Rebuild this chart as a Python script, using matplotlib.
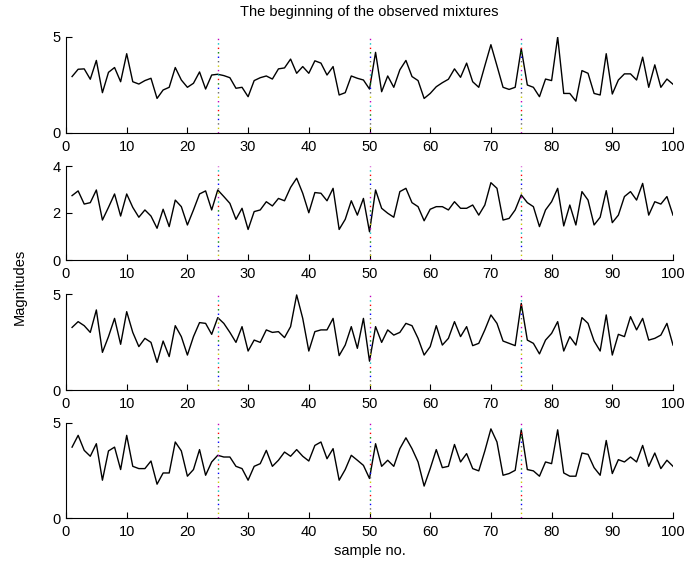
import matplotlib
matplotlib.use("Agg")
import matplotlib.pyplot as plt
import numpy as np

plt.rcParams['font.family'] = ['Liberation Sans', 'DejaVu Sans']

samples = list(range(1, 101))
s1 = [2.94,3.32,3.34,2.80,3.78,2.10,3.16,3.41,2.67,4.13,
      2.67,2.55,2.73,2.85,1.80,2.24,2.38,3.41,2.76,2.38,
      2.59,3.18,2.29,3.02,3.06,2.99,2.88,2.33,2.38,1.89,
      2.73,2.88,2.97,2.81,3.34,3.39,3.85,3.11,3.46,3.11,
      3.76,3.64,3.02,3.46,1.98,2.10,2.97,2.85,2.76,2.29,
      4.20,2.15,2.97,2.38,3.29,3.78,2.94,2.73,1.80,2.06,
      2.41,2.62,2.80,3.34,2.90,3.64,2.67,2.38,3.50,4.60,
      3.50,2.38,2.27,2.38,4.40,2.50,2.38,1.89,2.81,2.73,
      5.00,2.06,2.06,1.66,3.25,3.11,2.06,1.98,4.13,2.03,
      2.76,3.08,3.08,2.76,3.95,2.38,3.55,2.38,2.81,2.54]
s2 = [2.74,2.94,2.38,2.44,2.98,1.70,2.24,2.81,1.87,2.81,
      2.24,1.82,2.13,1.87,1.35,2.16,1.42,2.55,2.27,1.49,
      2.13,2.81,2.94,2.13,2.98,2.70,2.41,1.73,2.20,1.30,
      2.06,2.13,2.48,2.30,2.62,2.52,3.09,3.48,2.84,2.01,
      2.87,2.84,2.52,3.05,1.30,1.73,2.52,1.91,2.62,1.20,
      2.98,2.20,1.99,1.82,2.91,3.05,2.44,2.27,1.67,2.16,
      2.27,2.27,2.13,2.48,2.20,2.20,2.34,1.91,2.34,3.29,
      3.05,1.70,1.77,2.13,2.77,2.44,2.27,1.42,2.13,2.48,
      3.05,1.45,2.34,1.49,2.91,2.55,1.49,1.82,2.95,1.59,
      1.91,2.70,2.91,2.55,3.26,1.91,2.48,2.38,2.70,1.91]
s3 = [3.26,3.56,3.35,3.00,4.17,1.96,2.78,3.73,2.38,4.08,
      3.00,2.26,2.69,2.48,1.44,2.55,1.74,3.35,2.78,1.82,
      2.78,3.51,3.47,2.90,3.77,3.47,3.00,2.48,3.30,2.03,
      2.60,2.48,3.13,3.00,3.04,2.73,3.30,4.95,3.73,2.03,
      3.04,3.13,3.13,3.73,1.79,2.34,3.30,2.17,3.73,1.50,
      3.30,2.48,3.13,2.86,3.00,3.47,3.35,2.69,1.82,2.26,
      3.35,2.34,2.69,3.56,2.78,3.30,2.31,2.43,3.13,3.91,
      3.47,2.55,2.43,2.31,4.51,2.60,2.43,1.88,2.60,2.95,
      3.56,2.03,2.78,2.34,3.77,3.47,2.55,2.03,3.91,1.82,
      2.90,2.78,3.82,3.13,3.73,2.60,2.69,2.86,3.47,2.34]
s4 = [3.73,4.35,3.56,3.25,3.91,1.99,3.53,3.73,2.55,4.35,
      2.72,2.60,2.60,3.00,1.78,2.37,2.37,4.00,3.53,2.20,
      2.55,3.60,2.25,2.95,3.30,3.21,3.21,2.72,2.60,1.99,
      2.72,2.86,3.56,2.72,3.04,3.47,3.25,3.60,3.25,3.00,
      3.82,4.00,3.12,3.65,1.99,2.55,3.30,3.04,2.77,2.08,
      3.91,2.72,3.04,2.72,3.65,4.22,3.65,2.95,1.68,2.60,
      3.60,2.65,2.72,3.87,2.95,3.39,2.60,2.48,3.53,4.69,
      4.00,2.25,2.34,2.51,4.64,2.55,2.48,2.20,2.95,2.86,
      4.64,2.37,2.20,2.20,3.42,3.35,2.65,2.25,4.08,2.34,
      3.07,2.95,3.21,2.95,3.82,2.72,3.42,2.60,3.04,2.72]

series = [s1, s2, s3, s4]
ylims = [(0, 5), (0, 4), (0, 5), (0, 5)]
yticks = [[0, 5], [0, 2, 4], [0, 5], [0, 5]]
xticks = list(range(0, 101, 10))
marker_positions = [25, 50, 75]
marker_colors = ['m', 'c', 'r', (0, 0.5, 0), 'b', (0.4, 0.4, 0.4), (0.8, 0.8, 0)]

W, H = 691, 572
fig = plt.figure(figsize=(W / 100, H / 100), dpi=100)
left, right = 66, 673
boxes = [(37, 133), (166, 260), (294, 390), (423, 518)]

for k, (top, bot) in enumerate(boxes):
    ax = fig.add_axes([left / W, 1 - bot / H, (right - left) / W, (bot - top) / H])
    ax.plot(samples, series[k], color='black', lw=1.0)
    n = len(marker_colors)
    period = 3.2
    for xm in marker_positions:
        for j, c in enumerate(marker_colors):
            ax.axvline(xm, color=c, lw=1.0,
                       linestyle=(j * period, (1.0, n * period - 1.0)))
    ax.set_xlim(0, 100)
    ax.set_ylim(*ylims[k])
    ax.set_xticks(xticks)
    ax.set_yticks(yticks[k])
    for side in ['top', 'right']:
        ax.spines[side].set_visible(False)
    for side in ['left', 'bottom']:
        ax.spines[side].set_linewidth(0.8)
    ax.tick_params(direction='in', length=4.5, width=0.8, labelsize=10.5, pad=4)
    ax.tick_params(axis='x', pad=5)

fig.text(369.5 / W, 1 - 12 / H, 'The beginning of the observed mixtures',
         ha='center', va='center', fontsize=10.5)
fig.text(369.5 / W, 1 - 551 / H, 'sample no.', ha='center', va='center', fontsize=10.5)
fig.text(20 / W, 1 - 287 / H, 'Magnitudes', ha='center', va='center',
         rotation=90, fontsize=10.5)

fig.savefig('out.png', dpi=100)
